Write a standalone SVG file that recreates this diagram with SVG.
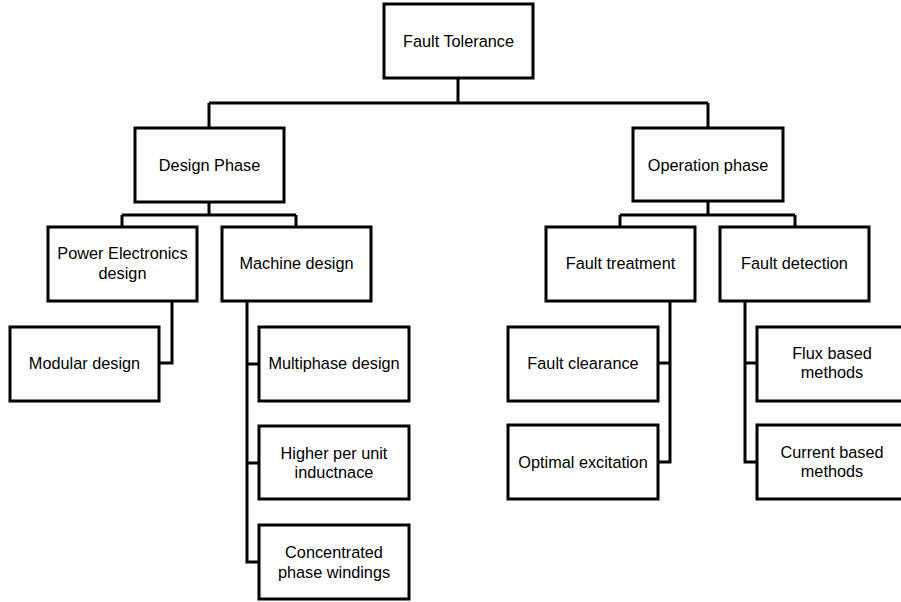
<svg xmlns="http://www.w3.org/2000/svg" width="901" height="602" viewBox="0 0 901 602">
<style>
rect{fill:#fff;stroke:#000;stroke-width:3}
text{font-family:"Liberation Sans",Arial,sans-serif;font-size:16.3px;fill:#000;text-anchor:middle;dominant-baseline:central}
.c path{fill:none;stroke:#000;stroke-width:3}
</style>
<rect x="0" y="0" width="901" height="602" style="stroke:none"/>
<g class="c" id="connectors">
<path d="M458 78V103M209 103H708M209 103V128M708 103V128"/>
<path d="M209 202V215M122 215H296M122 215V227M296 215V227"/>
<path d="M708 201V215M620 215H795M620 215V227M795 215V227"/>
<path d="M172 301V363H159"/>
<path d="M247 301V562H259M247 364H259M247 463H259"/>
<path d="M670 301V462H658M670 363H658"/>
<path d="M745 301V462H757M745 363H757"/>
</g>
<g id="n-fault-tolerance"><rect x="384" y="4" width="149" height="74"/><text x="458.5" y="41">Fault Tolerance</text></g>
<g id="n-design-phase"><rect x="135" y="128" width="149" height="74"/><text x="209.5" y="165">Design Phase</text></g>
<g id="n-operation-phase"><rect x="633" y="128" width="150" height="73"/><text x="708" y="165">Operation phase</text></g>
<g id="n-power-electronics"><rect x="48" y="227" width="149" height="74"/><text x="122.5" y="253">Power Electronics</text><text x="122.5" y="273">design</text></g>
<g id="n-machine-design"><rect x="222" y="227" width="149" height="74"/><text x="296.5" y="263">Machine design</text></g>
<g id="n-fault-treatment"><rect x="546" y="227" width="149" height="74"/><text x="620.5" y="263">Fault treatment</text></g>
<g id="n-fault-detection"><rect x="720" y="227" width="149" height="74"/><text x="794.5" y="263">Fault detection</text></g>
<g id="n-modular-design"><rect x="10" y="327" width="149" height="74"/><text x="84.5" y="363">Modular design</text></g>
<g id="n-multiphase"><rect x="259" y="327" width="150" height="74"/><text x="334" y="363">Multiphase design</text></g>
<g id="n-higher-per-unit"><rect x="259" y="426" width="150" height="73"/><text x="334" y="453">Higher per unit</text><text x="334" y="472">inductnace</text></g>
<g id="n-concentrated"><rect x="259" y="525" width="150" height="74"/><text x="334" y="552">Concentrated</text><text x="334" y="572">phase windings</text></g>
<g id="n-fault-clearance"><rect x="508" y="327" width="150" height="74"/><text x="583" y="363">Fault clearance</text></g>
<g id="n-optimal-excitation"><rect x="508" y="425" width="150" height="74"/><text x="583" y="462">Optimal excitation</text></g>
<g id="n-flux-based"><rect x="757" y="327" width="150" height="74"/><text x="832" y="353">Flux based</text><text x="832" y="372">methods</text></g>
<g id="n-current-based"><rect x="757" y="425" width="150" height="74"/><text x="832" y="452">Current based</text><text x="832" y="471">methods</text></g>
</svg>
